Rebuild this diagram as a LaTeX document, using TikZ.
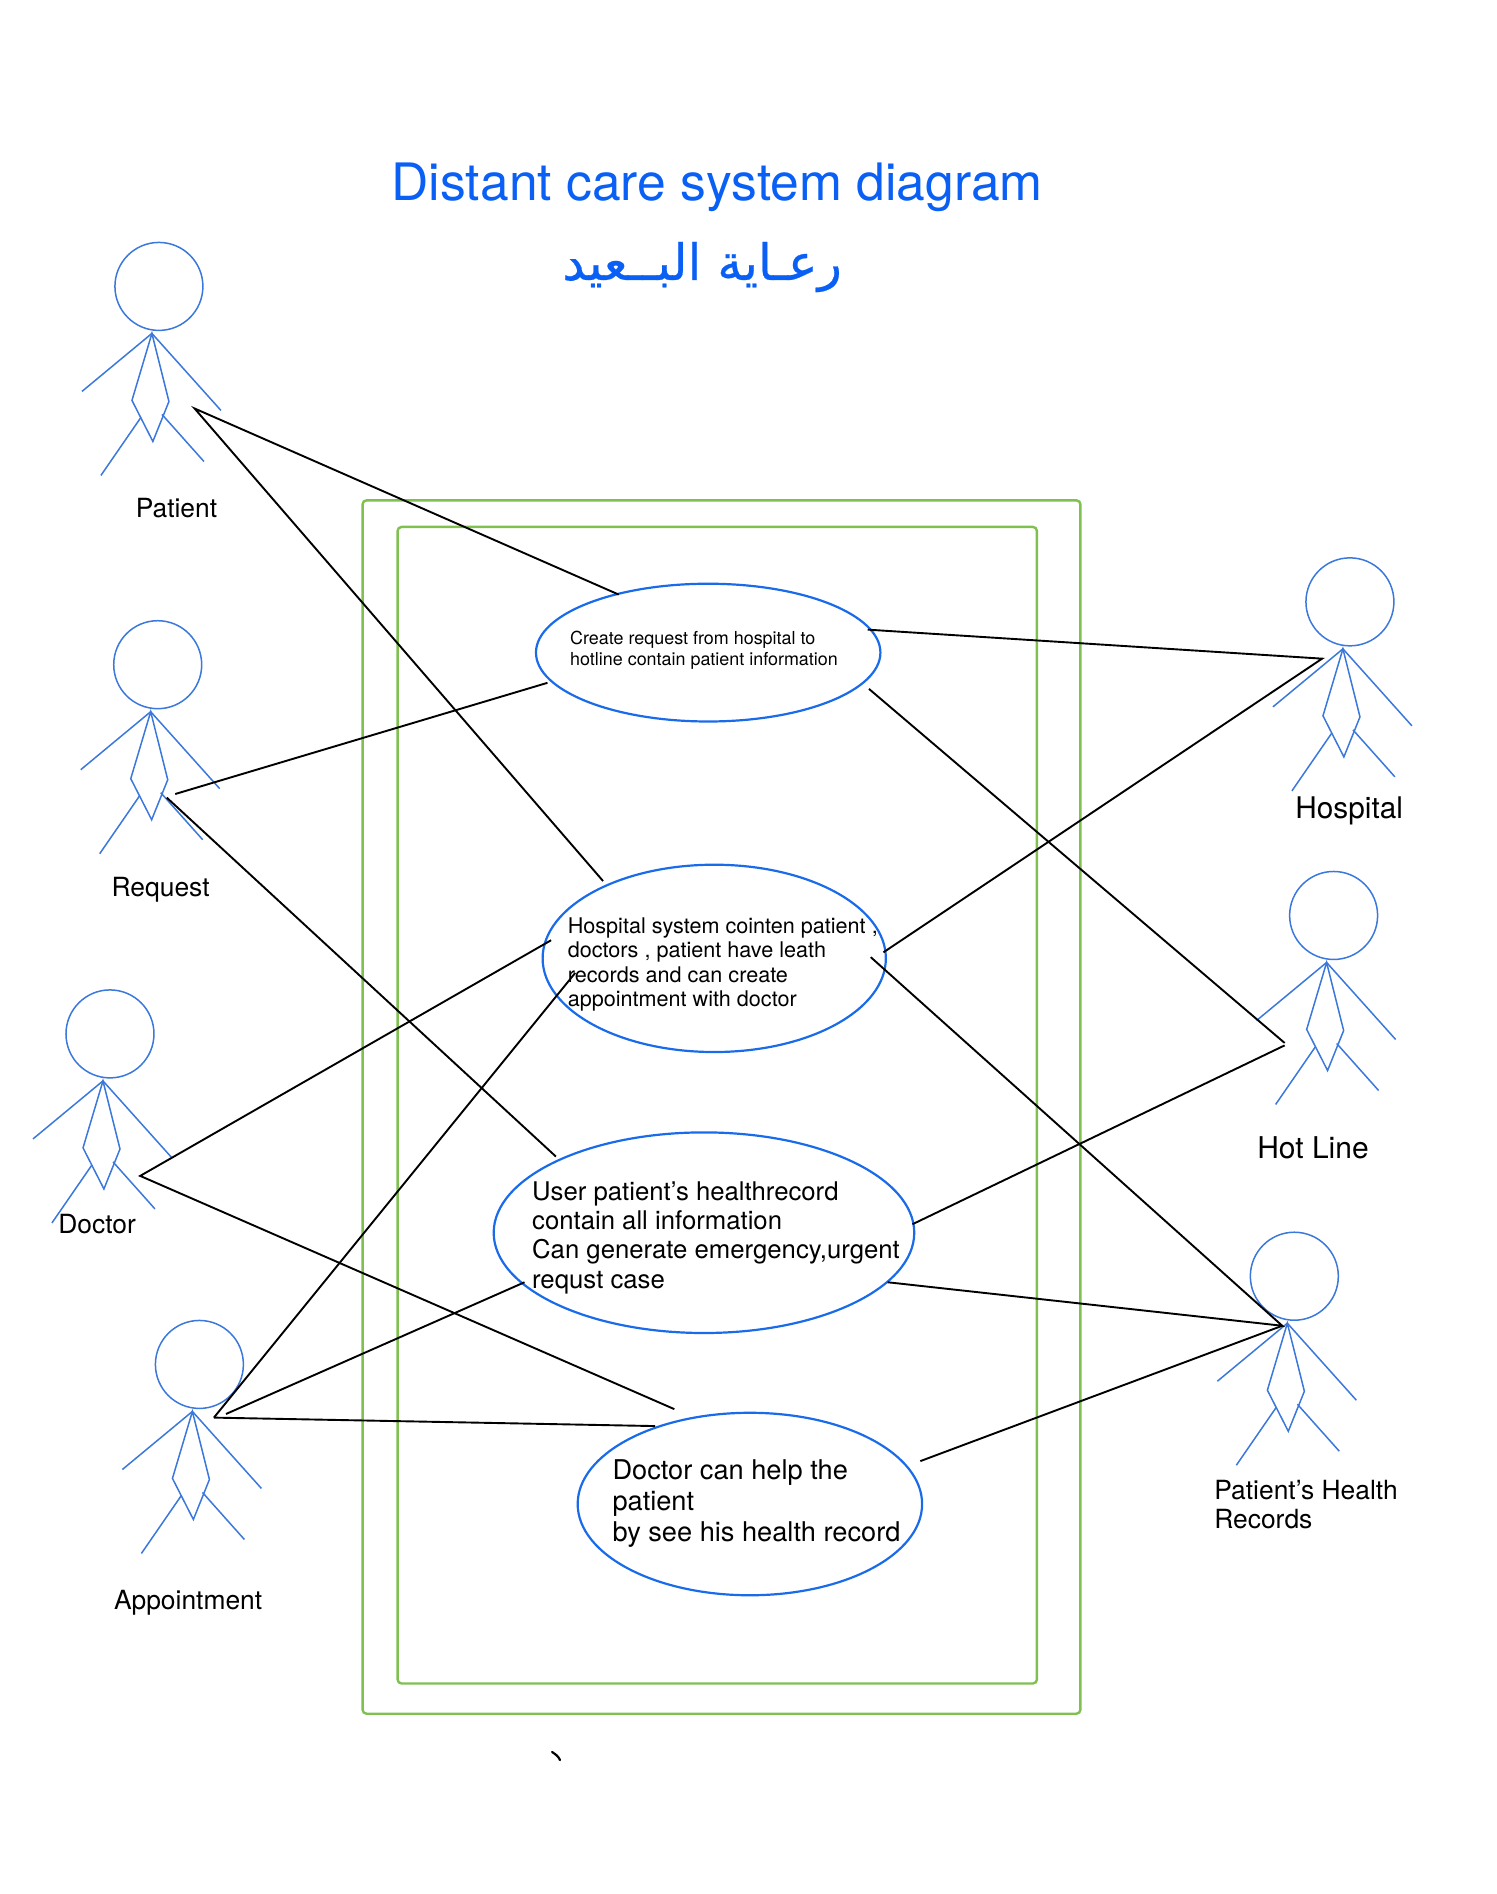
\documentclass[tikz,border=0pt]{standalone}
\usepackage{fontspec}
\setmainfont{TeX Gyre Heros}
\newfontfamily\arabicfont[Script=Arabic,FakeBold=0.5]{DejaVu Sans}
\TeXXeTstate=1
\definecolor{actorblue}{HTML}{3B78DC}
\definecolor{ellblue}{HTML}{1A6BEA}
\definecolor{titleblue}{HTML}{0A60F5}
\definecolor{framegreen}{HTML}{80C050}
\tikzset{
  x=0.6043pt,y=-0.6043pt,
  frame/.style={draw=framegreen,line width=1.2pt,rounded corners=2pt},
  usecase/.style={draw=ellblue,line width=1.1pt},
  link/.style={draw=black,line width=0.95pt},
  limb/.style={draw=actorblue,line width=0.75pt},
  lab/.style={anchor=west,inner sep=0pt,align=left,text=black},
  pics/actor/.style={code={
    \draw[limb] (0,0) circle [radius=36.4];
    \draw[limb] (-63.7,86.9) -- (-5.8,38.9) -- (51.3,102.6);
    \draw[limb] (-5.8,38.9) -- (-22.3,94.3) -- (-5,128.3) -- (8.3,95.2) -- cycle;
    \draw[limb] (-14.9,108.4) -- (-48,156.4);
    \draw[limb] (2.5,105.9) -- (37.2,144.8);
  }}
}
\begin{document}
\begin{tikzpicture}
\useasboundingbox (0,0) rectangle (1238.7,1567.2);
\draw[frame] (300,414) rectangle (894,1418);
\draw[frame] (329,436) rectangle (858,1393);
\foreach \n/\px/\py in {patient/131.5/237,request/130.5/550,doctor/91/855.5,appt/165/1129,hospital/1117/498,hotline/1103.5/757.5,records/1071/1056}
  \pic at (\px,\py) {actor};
\draw[usecase] (586,540) ellipse [x radius=142.5,y radius=57];
\draw[usecase] (591,793) ellipse [x radius=142,y radius=77.5];
\draw[usecase] (582.5,1020) ellipse [x radius=174,y radius=83];
\draw[usecase] (620.5,1244.5) ellipse [x radius=142.5,y radius=75.5];
\node[anchor=center,text=titleblue,font=\fontsize{25.8}{30}\selectfont] (title) at (593.5,155) {Distant care system diagram};
\node[anchor=center,text=titleblue,font=\arabicfont\fontsize{25}{30}\selectfont] (arabic) at (581,221) {\beginR رعـاية البــعيد\endR};
\node[lab,font=\fontsize{13.2}{15}\selectfont] (lpatient) at (112,420) {Patient};
\node[lab,font=\fontsize{13.2}{15}\selectfont] (lrequest) at (92,736) {Request};
\node[lab,font=\fontsize{13.2}{15}\selectfont] (ldoctor) at (48,1013) {Doctor};
\node[lab,font=\fontsize{13.2}{15}\selectfont] (lappt) at (94,1326) {Appointment};
\node[lab,font=\fontsize{14.9}{17}\selectfont] (lhospital) at (1071.5,671) {Hospital};
\node[lab,font=\fontsize{15}{17}\selectfont] (lhotline) at (1040,950) {Hot Line};
\node[lab,font=\fontsize{13.2}{14.8}\selectfont] (lrecords) at (1004.5,1245) {Patient’s Health\\Records};
\node[lab,font=\fontsize{8.96}{10.3}\selectfont] (t1) at (471.5,538) {Create request from hospital to\\hotline contain patient information};
\node[lab,font=\fontsize{10.8}{12.3}\selectfont] (t2) at (469.5,798) {Hospital system cointen patient ,\\doctors , patient have leath\\records and can create\\appointment with doctor};
\node[lab,font=\fontsize{12.86}{14.7}\selectfont] (t3) at (440,1024) {User patient’s healthrecord\\contain all information\\Can generate emergency,urgent\\requst case};
\node[lab,font=\fontsize{13.6}{15.6}\selectfont] (t4) at (506.5,1244) {Doctor can help the\\patient\\by see his health record};
\coordinate (p1) at (161,338);
\coordinate (a1) at (512,492);
\coordinate (a2) at (499,729);
\coordinate (r1) at (145,657);
\coordinate (r2) at (138,660);
\coordinate (b1) at (453,565);
\coordinate (b2) at (460,957);
\coordinate (d1) at (116,973);
\coordinate (c1) at (456,778);
\coordinate (c2) at (558,1166);
\coordinate (ap1) at (177,1173);
\coordinate (ap2) at (187,1170);
\coordinate (e1) at (476,805);
\coordinate (e2) at (434,1061);
\coordinate (e3) at (542,1180);
\coordinate (h1) at (1094,545);
\coordinate (f1) at (718,521);
\coordinate (f2) at (731,788);
\coordinate (hl1) at (1063,863);
\coordinate (hl2) at (1063,865);
\coordinate (g1) at (719,570);
\coordinate (g2) at (755,1013);
\coordinate (rc) at (1061,1097);
\coordinate (k1) at (720.5,792);
\coordinate (k2) at (734.5,1061);
\coordinate (k3) at (761.5,1209);
\draw[link] (a1) -- (p1) -- (a2);
\draw[link] (r1) -- (b1);
\draw[link] (r2) -- (b2);
\draw[link] (c1) -- (d1) -- (c2);
\draw[link] (ap1) -- (e1);
\draw[link] (ap2) -- (e2);
\draw[link] (ap1) -- (e3);
\draw[link] (f1) -- (h1) -- (f2);
\draw[link] (g1) -- (hl1);
\draw[link] (g2) -- (hl2);
\draw[link] (k1) -- (rc) -- (k2);
\draw[link] (rc) -- (k3);
\draw[line width=1.1pt,line cap=round] (456.8,1449.7) .. controls (459.5,1451.5) and (462,1453) .. (463.4,1456.4);
\end{tikzpicture}
\end{document}
